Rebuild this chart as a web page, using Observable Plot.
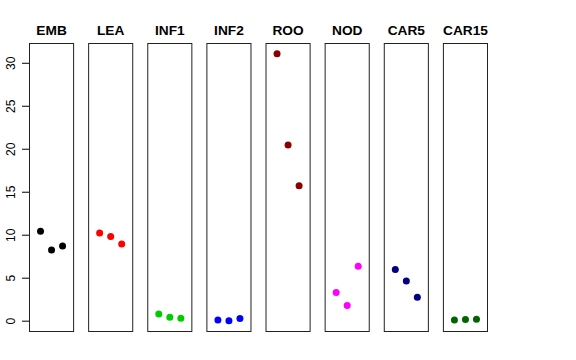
<!DOCTYPE html>
<html><head><meta charset="utf-8">
<script src="https://cdn.jsdelivr.net/npm/d3@7"></script>
<script src="https://cdn.jsdelivr.net/npm/@observablehq/plot@0.6"></script>
<style>body{margin:0;background:#fff} svg{display:block}</style>
</head><body><div id="chart"></div>
<script>
const categories = ["EMB","LEA","INF1","INF2","ROO","NOD","CAR5","CAR15"];
const rep1 = [10.47, 10.27, 0.85, 0.15, 31.1, 3.35, 6.0, 0.15];
const rep2 = [8.28, 9.84, 0.47, 0.05, 20.5, 1.83, 4.67, 0.2];
const rep3 = [8.75, 8.98, 0.35, 0.32, 15.75, 6.38, 2.77, 0.23];
const colors = ["black","red","#00CD00","blue","#8B0000","magenta","#000080","#006400"];
const yTicks = [0,5,10,15,20,25,30];

const rows = [];
categories.forEach((c,i)=>{[rep1,rep2,rep3].forEach((r,j)=>rows.push({tissue:c, rep:j+1, value:r[i], color:colors[i]}));});

const chart = Plot.plot({
  width:576, height:360, marginLeft:29, marginRight:89, marginTop:43, marginBottom:29,
  style:{fontFamily:"'Liberation Sans', Arial, sans-serif", background:"#fff", color:"black"},
  fx:{domain:categories, paddingInner:15/59, paddingOuter:0, round:false, label:null},
  x:{domain:[0,4], axis:null},
  y:{domain:[-1.2,32.3]},
  color:{type:"identity"},
  marks:[
    Plot.frame({stroke:"#222"}),
    Plot.axisFx({anchor:"top", tickSize:0, tickPadding:9, fontSize:13.7, fontWeight:"bold", label:null}),
    Plot.axisY({ticks:yTicks, tickSize:7, text:null, label:null, stroke:"black", strokeOpacity:1, strokeWidth:1}),
    Plot.axisY({ticks:yTicks, tickSize:0, tickPadding:15, rotate:-90, textAnchor:"middle", lineAnchor:"bottom", fontSize:12, label:null}),
    Plot.dot(rows,{fx:"tissue", x:"rep", y:"value", fill:"color", r:3.5})
  ]
});
document.getElementById("chart").appendChild(chart);
</script>
</body></html>
